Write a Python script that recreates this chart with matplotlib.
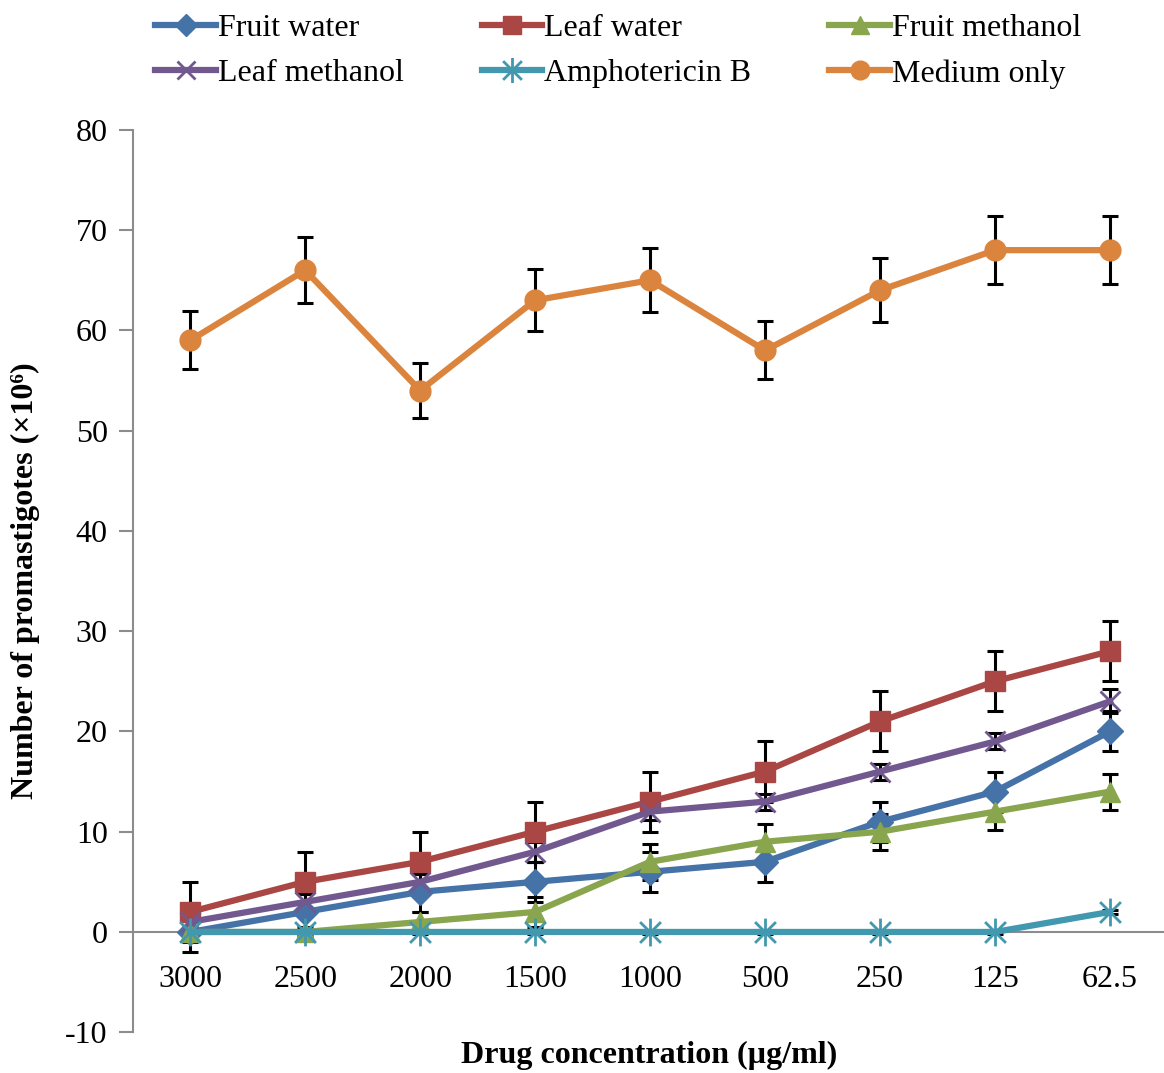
import matplotlib
matplotlib.use("Agg")
import matplotlib.pyplot as plt
import numpy as np
from matplotlib.path import Path

plt.rcParams['font.family'] = ['Liberation Serif', 'DejaVu Serif']
plt.rcParams['axes.unicode_minus'] = False

concentrations = ["3000", "2500", "2000", "1500", "1000", "500", "250", "125", "62.5"]

fruit_water = [0, 2, 4, 5, 6, 7, 11, 14, 20]
fruit_water_err = [2, 2, 2, 2, 2, 2, 2, 2, 2]
leaf_water = [2, 5, 7, 10, 13, 16, 21, 25, 28]
leaf_water_err = [3, 3, 3, 3, 3, 3, 3, 3, 3]
fruit_methanol = [0, 0, 1, 2, 7, 9, 10, 12, 14]
fruit_methanol_err = [0.5, 0.5, 1.0, 1.5, 1.8, 1.8, 1.8, 1.8, 1.8]
leaf_methanol = [1, 3, 5, 8, 12, 13, 16, 19, 23]
leaf_methanol_err = [0.8, 0.8, 0.8, 1.0, 0.8, 0.8, 0.8, 0.8, 1.2]
amphotericin = [0, 0, 0, 0, 0, 0, 0, 0, 2]
amphotericin_err = [0.2, 0.2, 0.2, 0.2, 0.2, 0.2, 0.2, 0.2, 0.2]
medium_only = [59, 66, 54, 63, 65, 58, 64, 68, 68]
medium_only_err = [2.9, 3.3, 2.7, 3.1, 3.2, 2.9, 3.2, 3.4, 3.4]

# Excel-style asterisk: vertical bar plus an x
star = Path([(0, -1), (0, 1), (-0.75, -0.75), (0.75, 0.75), (-0.75, 0.75), (0.75, -0.75)],
            [Path.MOVETO, Path.LINETO] * 3)

series = [
    ("Fruit water", fruit_water, fruit_water_err, "#4572A7", "D", 13),
    ("Leaf water", leaf_water, leaf_water_err, "#AA4643", "s", 15),
    ("Fruit methanol", fruit_methanol, fruit_methanol_err, "#89A54E", "^", 15),
    ("Leaf methanol", leaf_methanol, leaf_methanol_err, "#71588F", "x", 14),
    ("Amphotericin B", amphotericin, amphotericin_err, "#4198AF", star, 20),
    ("Medium only", medium_only, medium_only_err, "#DB843D", "o", 15),
]

fig = plt.figure(figsize=(11.64, 10.73), dpi=100)
ax = fig.add_axes([0.114, 0.038, 0.889, 0.841])

x = np.arange(len(concentrations))
handles = []
for name, vals, err, col, mk, ms in series:
    ax.errorbar(x, vals, yerr=err, fmt="none", ecolor="black", elinewidth=2.2,
                capsize=6, capthick=2.2, zorder=2)
    if isinstance(mk, Path) or mk == "x":
        ln, = ax.plot(x, vals, color=col, lw=4.5, marker=mk, ms=ms,
                      mew=2, mec=col, zorder=3, label=name)
    else:
        ln, = ax.plot(x, vals, color=col, lw=4.5, marker=mk, ms=ms,
                      mfc=col, mec=col, zorder=3, label=name)
    handles.append(ln)

ax.set_xlim(-0.5, 8.5)
ax.set_ylim(-10, 80)
ax.set_yticks(np.arange(-10, 81, 10))
ax.set_xticks(x)
ax.set_xticklabels(concentrations)

for s in ["top", "right"]:
    ax.spines[s].set_visible(False)
ax.spines["bottom"].set_position(("data", 0))
ax.spines["bottom"].set_color("#8c8c8c")
ax.spines["left"].set_color("#8c8c8c")
ax.spines["bottom"].set_linewidth(1.5)
ax.spines["left"].set_linewidth(1.5)
ax.spines["bottom"].set_zorder(1)

ax.tick_params(axis="y", direction="out", length=10, width=1.5, color="#8c8c8c",
               labelsize=23, pad=8)
ax.tick_params(axis="x", length=0, labelsize=23, pad=24)

fig.text(0.022, 0.4585, "Number of promastigotes (\u00d710\u2076)", rotation=90,
         ha="center", va="center", fontsize=23, fontweight="bold")
fig.text(0.558, 0.016, "Drug concentration (\u00b5g/ml)", ha="center", va="center",
         fontsize=23, fontweight="bold")

# legend is filled column by column, so reorder to read row by row
order = [0, 3, 1, 4, 2, 5]
fig.legend(handles=[handles[i] for i in order], loc="upper center",
           bbox_to_anchor=(0.531, 1.014), ncol=3, frameon=False, fontsize=23,
           handlelength=1.9, handletextpad=0.05, columnspacing=2.45,
           labelspacing=0.5, markerscale=0.9)

fig.savefig("out.png", dpi=100)
